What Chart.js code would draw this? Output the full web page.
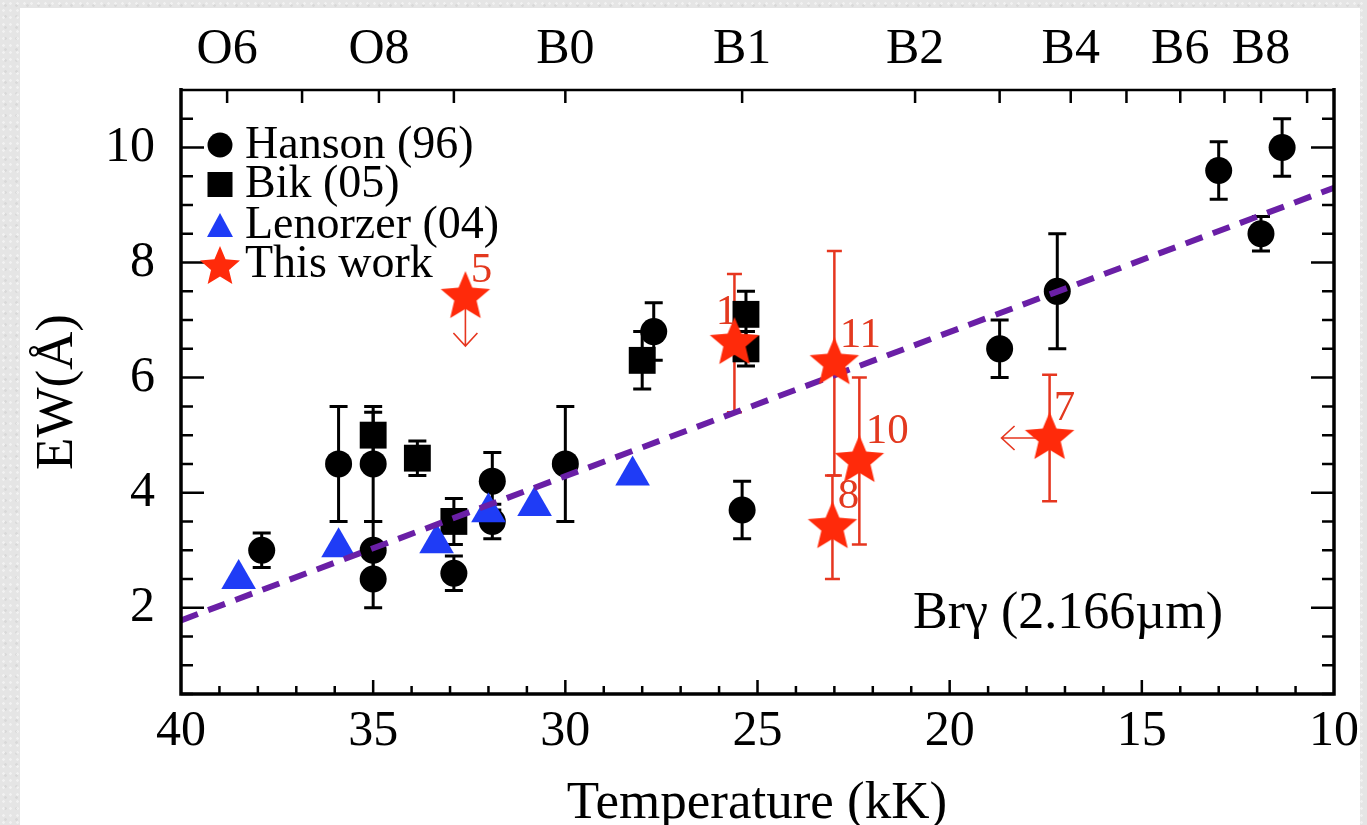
<!DOCTYPE html>
<html>
<head>
<meta charset="utf-8">
<script src="https://cdn.jsdelivr.net/npm/chart.js@4.4.1/dist/chart.umd.min.js"></script>
<style>
  html, body { margin: 0; padding: 0; }
  body {
    width: 1367px; height: 825px; overflow: hidden;
    background-color: #e5e5e5;
    background-image:
      radial-gradient(rgba(255,255,255,.45) 1px, transparent 1.6px),
      radial-gradient(rgba(0,0,0,.05) 1px, transparent 1.6px);
    background-size: 7px 7px, 11px 11px;
  }
  canvas { display: block; }
</style>
</head>
<body>
<canvas id="ewChart" width="1367" height="825"></canvas>
<script>
// Br-gamma equivalent width against effective temperature

// Hanson (96)
const hansonT   = [37.9, 35.9, 35.0, 35.0, 35.0, 32.9, 31.9, 31.9, 30.0, 27.7, 25.4, 18.7, 17.2, 13.0, 11.9, 11.35]
const hansonEW  = [3.0, 4.5, 4.5, 3.0, 2.5, 2.6, 4.2, 3.5, 4.5, 6.8, 3.7, 6.5, 7.5, 9.6, 8.5, 10.0]
const hansonErr = [0.3, 1.0, 1.0, 0.5, 0.5, 0.3, 0.5, 0.3, 1.0, 0.5, 0.5, 0.5, 1.0, 0.5, 0.3, 0.5]

// Bik (05)
const bikT   = [35.0, 33.85, 32.9, 28.0, 25.3, 25.3]
const bikEW  = [5.0, 4.6, 3.5, 6.3, 7.1, 6.5]
const bikErr = [0.4, 0.3, 0.4, 0.5, 0.4, 0.3]

// Lenorzer (04)
const lenT  = [38.5, 35.9, 33.35, 32.0, 30.8, 28.25]
const lenEW = [2.5, 3.05, 3.12, 3.66, 3.77, 4.3]

// this work
const ownLabel = ['5', '1', '11', '8', '10', '7']
const ownT     = [32.6, 25.6, 23.0, 23.05, 22.35, 17.4]
const ownEW    = [7.4, 6.6, 6.25, 3.4, 4.55, 4.95]
const ownErr   = [0, 1.2, 1.95, 0.9, 1.45, 1.1]
// upper limits: star 5 in EW, star 7 in temperature
const ewLimit = { star: 0, to: 6.55 }
const tLimit  = { star: 5, to: 18.65 }

// linear fit
const fitT  = [40, 10]
const fitEW = [1.78, 9.3]

// axes
const tempTicks = [40, 35, 30, 25, 20, 15, 10]
const ewTicks   = [2, 4, 6, 8, 10]
const specT     = [38.8, 36.85, 34.85, 32.9, 30.0, 25.4, 20.9, 18.7, 16.85, 15.4, 14.0, 12.85, 11.9, 10.7]
const specLabel = ['O6', '', 'O8', '', 'B0', 'B1', 'B2', '', 'B4', '', 'B6', '', 'B8', '']

const SERIF = 'Liberation Serif, Times New Roman, serif'
const RED = '#ff2a0a', RED_LINE = '#e6361f', BLUE = '#1f3cf6', PURPLE = '#6a1fa6'

const pts = (xs, ys) => xs.map((x, i) => ({ x, y: ys[i] }))

function starPath(c, x, y, R, r) {
  c.beginPath()
  for (let i = 0; i < 10; i++) {
    const a = -Math.PI / 2 + i * Math.PI / 5
    const rad = i % 2 ? r : R
    c.lineTo(x + Math.cos(a) * rad, y + Math.sin(a) * rad)
  }
  c.closePath()
}

function starImage(R){
  const cv = document.createElement('canvas')
  cv.width = cv.height = Math.ceil(R * 2 + 2)
  const c = cv.getContext('2d')
  starPath(c, cv.width / 2, cv.height / 2, R, R * 0.45)
  c.fillStyle = RED
  c.fill()
  return cv
}

// label offsets for the numbered stars (px from the marker centre)
const nudge = [[16, -26], [-8, -30], [26, -28], [16, -30], [28, -29], [15, -29]]

const decor = {
  id: 'decor',
  beforeDraw(chart){
    const c = chart.ctx
    c.save()
    c.fillStyle = '#fff'
    c.fillRect(20, 8, 1340, 817)
    c.restore()
  },
  beforeDatasetsDraw(chart){
    const c = chart.ctx, xs = chart.scales.x, ys = chart.scales.y
    const bars = (T, EW, E, color, lw, cap) => {
      c.strokeStyle = color; c.lineWidth = lw
      T.forEach((t, i) => {
        if (!E[i]) return
        const px = xs.getPixelForValue(t)
        const top = ys.getPixelForValue(EW[i] + E[i]), bot = ys.getPixelForValue(EW[i] - E[i])
        c.beginPath()
        c.moveTo(px, top); c.lineTo(px, bot)
        c.moveTo(px - cap / 2, top); c.lineTo(px + cap / 2, top)
        c.moveTo(px - cap / 2, bot); c.lineTo(px + cap / 2, bot)
        c.stroke()
      })
    }
    c.save()
    bars(hansonT, hansonEW, hansonErr, '#000', 3, 18)
    bars(bikT, bikEW, bikErr, '#000', 3, 18)
    bars(ownT, ownEW, ownErr, RED_LINE, 2.5, 15)

    // limit arrows
    c.strokeStyle = RED_LINE; c.lineWidth = 1.6
    let px = xs.getPixelForValue(ownT[ewLimit.star])
    let py0 = ys.getPixelForValue(ownEW[ewLimit.star]), py1 = ys.getPixelForValue(ewLimit.to)
    c.beginPath()
    c.moveTo(px, py0); c.lineTo(px, py1)
    c.moveTo(px - 12, py1 - 13); c.lineTo(px, py1); c.lineTo(px + 12, py1 - 13)
    c.stroke()
    const py = ys.getPixelForValue(ownEW[tLimit.star])
    const px0 = xs.getPixelForValue(ownT[tLimit.star]), px1 = xs.getPixelForValue(tLimit.to)
    c.beginPath()
    c.moveTo(px0, py); c.lineTo(px1, py)
    c.moveTo(px1 + 13, py - 12); c.lineTo(px1, py); c.lineTo(px1 + 13, py + 12)
    c.stroke()
    c.restore()
  },
  afterDatasetsDraw(chart){
    const c = chart.ctx
    const meta = chart.getDatasetMeta(0)
    c.save()
    c.font = '43px ' + SERIF
    c.fillStyle = '#e3391f'
    c.textAlign = 'center'; c.textBaseline = 'middle'
    meta.data.forEach((p, i) => {
      c.fillText(ownLabel[i], p.x + nudge[i][0], p.y + nudge[i][1])
    })
    c.restore()
  },
  afterDraw(chart){
    const c = chart.ctx, a = chart.chartArea
    const xs = chart.scales.x, ys = chart.scales.y
    c.save()
    c.strokeStyle = '#000'

    // ticks
    c.lineWidth = 2.5
    c.beginPath()
    for (let k = 1; k < 22; k++) {
      const v = k * 0.5, py = ys.getPixelForValue(v)
      const len = v % 2 === 0 ? 23 : 12
      c.moveTo(a.left, py); c.lineTo(a.left + len, py)
      c.moveTo(a.right, py); c.lineTo(a.right - len, py)
    }
    for (let t = 11; t < 40; t++) {
      const px = xs.getPixelForValue(t)
      const len = t % 5 === 0 ? 14 : 8
      c.moveTo(px, a.bottom); c.lineTo(px, a.bottom - len)
    }
    specT.forEach(t => {
      const px = xs.getPixelForValue(t)
      c.moveTo(px, a.top); c.lineTo(px, a.top + 13)
    })
    c.stroke()

    // frame
    c.lineWidth = 3.5
    c.beginPath()
    c.moveTo(a.left, a.top - 2); c.lineTo(a.left, a.bottom)
    c.lineTo(a.right, a.bottom); c.lineTo(a.right, a.top - 2)
    c.stroke()
    c.lineWidth = 2.5
    c.beginPath()
    c.moveTo(a.left, a.top); c.lineTo(a.right, a.top)
    c.stroke()

    // axis titles and annotation
    c.fillStyle = '#000'
    c.font = '53px ' + SERIF
    c.textAlign = 'center'; c.textBaseline = 'alphabetic'
    c.fillText('Temperature (kK)', 757, 818)
    c.save()
    c.translate(72, 392); c.rotate(-Math.PI / 2)
    c.fillText('EW(\u00c5)', 0, 0)
    c.restore()
    c.font = '52px ' + SERIF
    c.textAlign = 'left'
    c.fillText('Br\u03b3 (2.166\u00b5m)', 913, 628)

    // legend
    const lx = 220, tx = 245
    c.font = '46px ' + SERIF
    c.fillText('Hanson (96)', tx, 158)
    c.fillText('Bik (05)', tx, 197)
    c.fillText('Lenorzer (04)', tx, 238)
    c.fillText('This work', tx, 277)
    c.beginPath(); c.arc(lx, 145, 12.5, 0, Math.PI * 2); c.fill()
    c.fillRect(lx - 12.5, 172, 25, 25)
    c.fillStyle = BLUE
    c.beginPath(); c.moveTo(lx, 213); c.lineTo(lx + 13, 237); c.lineTo(lx - 13, 237); c.closePath(); c.fill()
    c.fillStyle = RED
    starPath(c, lx, 267, 21, 21 * 0.45); c.fill()
    c.restore()
  }
}

const tickFont = { family: SERIF, size: 50 }

new Chart(document.getElementById('ewChart'), {
  type: 'scatter',
  data: {
    datasets: [
      { label: 'This work', data: pts(ownT, ownEW), pointStyle: starImage(26), pointRadius: 26, order: 0 },
      { label: 'fit', data: pts(fitT, fitEW), showLine: true, borderColor: PURPLE, borderWidth: 6,
        borderDash: [18, 11], pointRadius: 0, order: 1 },
      { label: 'Lenorzer (04)', data: pts(lenT, lenEW), pointStyle: 'triangle', pointRadius: 20,
        backgroundColor: BLUE, borderColor: BLUE, borderWidth: 0, order: 2 },
      { label: 'Bik (05)', data: pts(bikT, bikEW), pointStyle: 'rect', pointRadius: 19,
        backgroundColor: '#000', borderColor: '#000', borderWidth: 0, order: 3 },
      { label: 'Hanson (96)', data: pts(hansonT, hansonEW), pointStyle: 'circle', pointRadius: 13.5,
        backgroundColor: '#000', borderColor: '#000', borderWidth: 0, order: 4 }
    ]
  },
  options: {
    responsive: false,
    animation: false,
    devicePixelRatio: 1,
    layout: { padding: { left: 0, right: 33, top: 0, bottom: 0 } },
    plugins: { legend: { display: false }, tooltip: { enabled: false } },
    scales: {
      x: {
        type: 'linear', position: 'bottom', reverse: true, min: 10, max: 40,
        grid: { display: false, drawTicks: false }, border: { display: false },
        afterBuildTicks: s => { s.ticks = tempTicks.map(v => ({ value: v })) },
        afterFit: s => { s.height = 131; s.paddingLeft = 0; s.paddingRight = 0 },
        ticks: { font: tickFont, color: '#000', padding: 8, autoSkip: false, maxRotation: 0 }
      },
      x2: {
        type: 'linear', position: 'top', reverse: true, min: 10, max: 40,
        grid: { display: false, drawTicks: false }, border: { display: false },
        afterBuildTicks: s => { s.ticks = specT.map(v => ({ value: v })) },
        afterFit: s => { s.height = 90; s.paddingLeft = 0; s.paddingRight = 0 },
        ticks: { font: tickFont, color: '#000', padding: 10, autoSkip: false, maxRotation: 0,
          callback: (v, i) => specLabel[i] }
      },
      y: {
        type: 'linear', position: 'left', min: 0.5, max: 11,
        grid: { display: false, drawTicks: false }, border: { display: false },
        afterBuildTicks: s => { s.ticks = ewTicks.map(v => ({ value: v })) },
        afterFit: s => { s.width = 181; s.paddingTop = 0; s.paddingBottom = 0 },
        ticks: { font: tickFont, color: '#000', padding: 26 }
      }
    }
  },
  plugins: [decor]
})
</script>
</body>
</html>
